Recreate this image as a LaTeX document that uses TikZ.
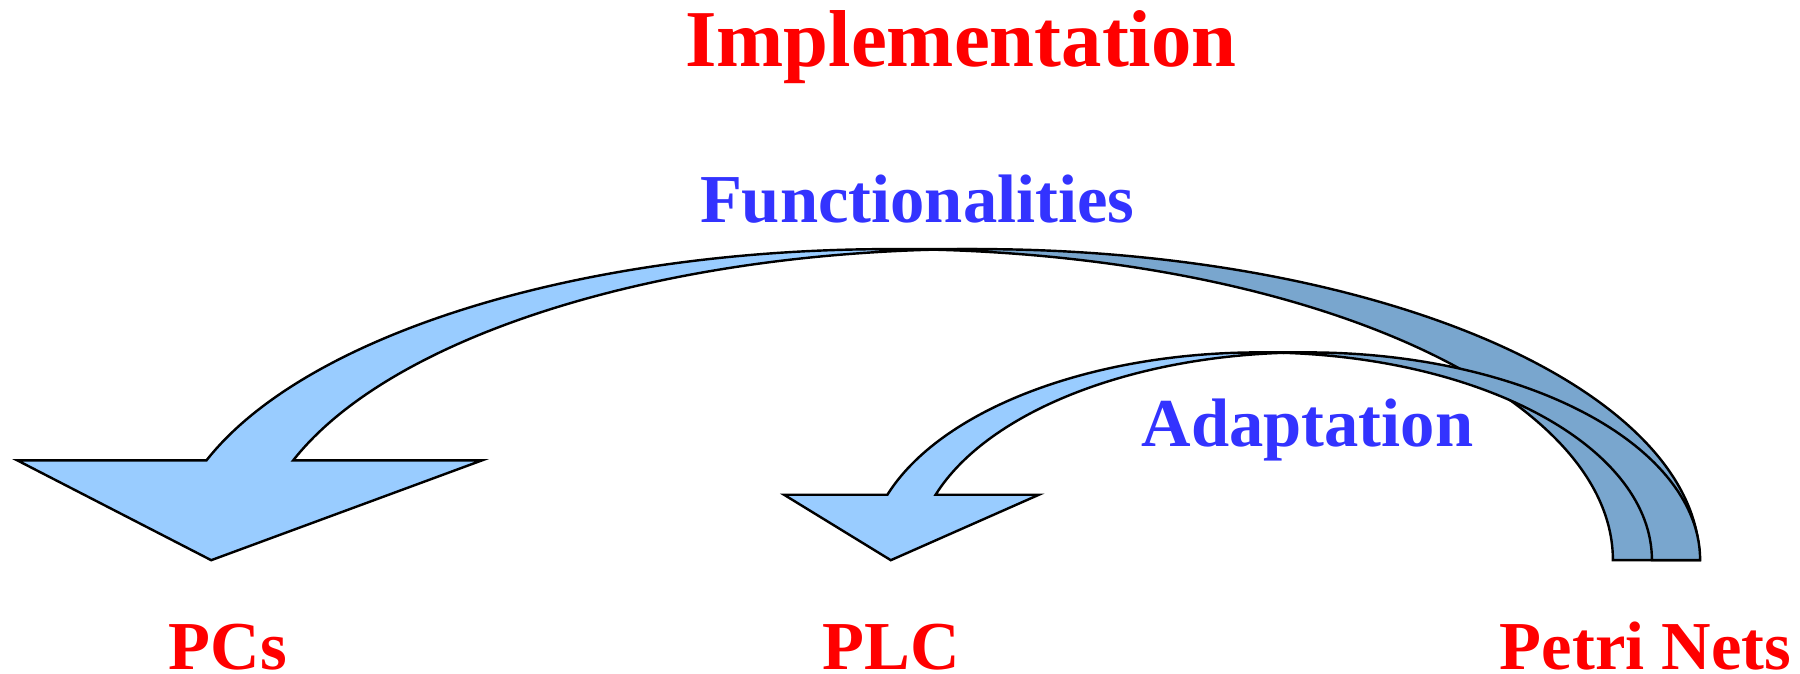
\documentclass[tikz,border=0pt]{standalone}
\usepackage{fontspec}
\setmainfont{Liberation Serif}
\definecolor{lightblue}{RGB}{153,204,255}
\definecolor{darkblue}{RGB}{121,166,206}
\definecolor{txtred}{RGB}{255,0,0}
\definecolor{txtblue}{RGB}{51,51,255}
\begin{document}
\begin{tikzpicture}[
  frontpart/.style={fill=lightblue, draw=black, line width=0.6pt, line join=miter},
  backpart/.style={fill=darkblue, draw=black, line width=0.6pt, line join=miter},
  redlbl/.style={text=txtred, font=\fontsize{17}{20}\selectfont\bfseries, anchor=base, inner sep=0pt, text depth=0pt},
  bluelbl/.style={text=txtblue, font=\fontsize{17}{20}\selectfont\bfseries, anchor=base, inner sep=0pt},
  titlelbl/.style={text=txtred, font=\fontsize{20}{24}\selectfont\bfseries, anchor=base, inner sep=0pt}]
\useasboundingbox (0,0) rectangle (15.68,5.87);

% big curved arrow (Petri Nets -> PCs): two equal ellipses shifted by the shaft width
\draw[backpart] (8.1355,3.6951) arc[start angle=93.44, end angle=0, x radius=6.292, y radius=2.71]
   -- (14.05,0.99) arc[start angle=0, end angle=86.56, x radius=6.292, y radius=2.71] -- cycle;
\draw[frontpart] (0.15,1.86) -- (1.799,1.86)
   arc[start angle=161.27, end angle=90, x radius=6.292, y radius=2.71]
   -- (8.513,3.70)
   arc[start angle=90, end angle=161.27, x radius=6.292, y radius=2.71]
   -- (4.20,1.86) -- (1.84,0.99) -- cycle;

% small curved arrow (Petri Nets -> PLC)
\draw[backpart] (11.183,2.7966) arc[start angle=93.52, end angle=0, x radius=3.417, y radius=1.81]
   -- (14.39,0.99) arc[start angle=0, end angle=86.48, x radius=3.417, y radius=1.81] -- cycle;
\draw[frontpart] (6.83,1.56) -- (7.730,1.56)
   arc[start angle=161.65, end angle=90, x radius=3.417, y radius=1.81]
   -- (11.393,2.80)
   arc[start angle=90, end angle=161.65, x radius=3.417, y radius=1.81]
   -- (9.05,1.56) -- (7.76,0.99) -- cycle;

% labels
\node[titlelbl] (impl) at (8.37,5.29) {Implementation};
\node[bluelbl] (func) at (7.99,3.93) {Functionalities};
\node[bluelbl] (adapt) at (11.39,1.98) {Adaptation};
\node[redlbl] (pcs) at (1.985,0.04) {PCs};
\node[redlbl] (plc) at (7.765,0.04) {PLC};
\node[redlbl] (petri) at (14.335,0.04) {Petri Nets};
\end{tikzpicture}
\end{document}
